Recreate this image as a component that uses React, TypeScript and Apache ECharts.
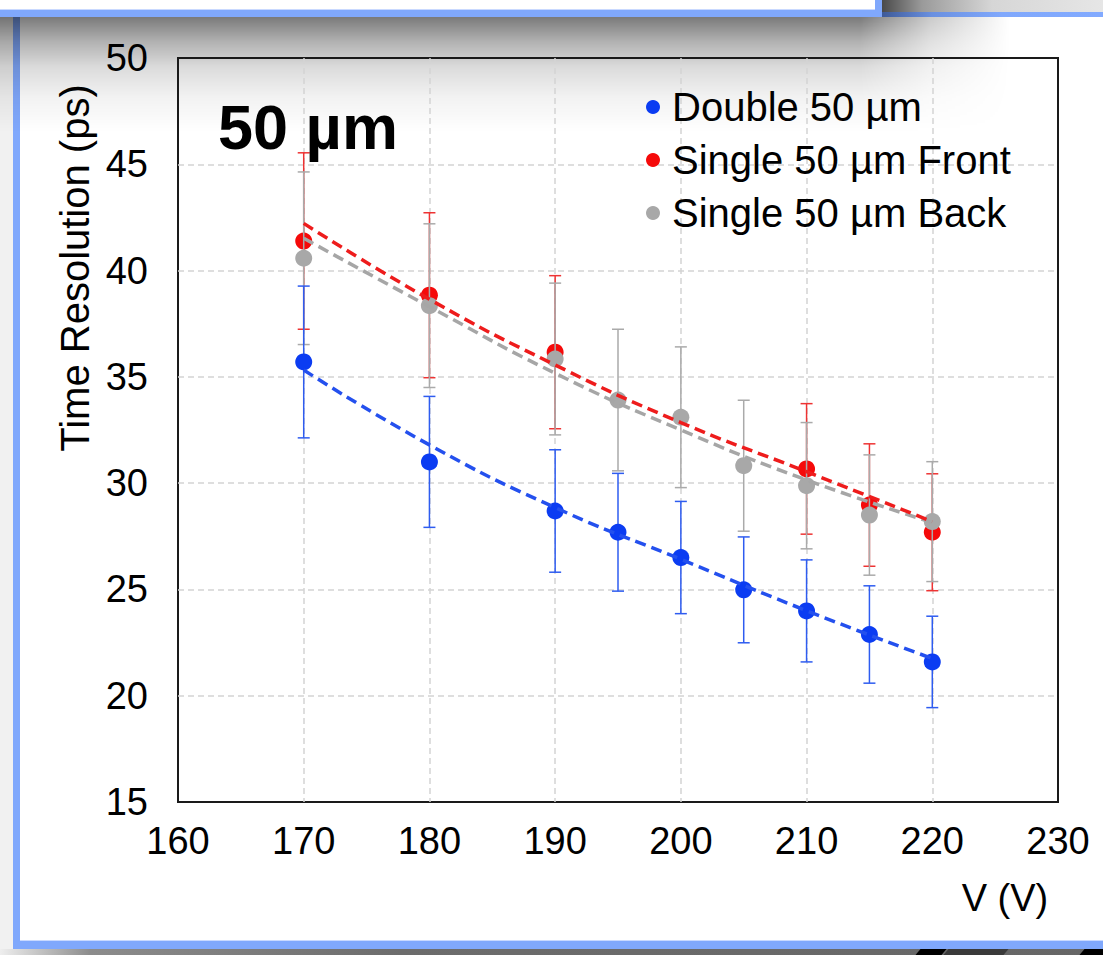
import React, { useEffect, useRef } from "react";
import * as echarts from "echarts";

// ---- data ----
const doubleVolts = [170, 180, 190, 195, 200, 205, 210, 215, 220];
const doubleRes = [35.7, 31.0, 28.69, 27.69, 26.5, 24.98, 23.99, 22.88, 21.59];
const doubleErr = [3.57, 3.08, 2.88, 2.77, 2.64, 2.49, 2.4, 2.29, 2.15];

const frontVolts = [170, 180, 190, 210, 215, 220];
const frontRes = [41.39, 38.84, 36.16, 30.67, 28.97, 27.69];
const frontErr = [4.15, 3.88, 3.6, 3.07, 2.88, 2.75];

const backVolts = [170, 180, 190, 195, 200, 205, 210, 215, 220];
const backRes = [40.58, 38.35, 35.84, 33.91, 33.1, 30.82, 29.88, 28.5, 28.19];
const backErr = [4.06, 3.85, 3.57, 3.33, 3.31, 3.08, 2.97, 2.83, 2.82];

const fitVolts = [170, 180, 190, 200, 210, 220];
const doubleFit = [35.32, 31.8, 28.85, 26.42, 24.0, 21.75];
const frontFit = [42.22, 38.65, 35.56, 32.85, 30.54, 28.19];
const backFit = [41.52, 38.3, 35.17, 32.5, 30.15, 28.15];

const xTicks = { min: 160, max: 230, step: 10 };
const yTicks = { min: 15, max: 50, step: 5 };

const names = ["Double 50 µm", "Single 50 µm Front", "Single 50 µm Back"];

const BLUE = "#0b3cf2";
const RED = "#f50a0a";
const GRAY = "#a8a8a8";
const FONT = "'Liberation Sans', Arial, Helvetica, sans-serif";

function pairs(xs: number[], ys: number[]) {
  return xs.map((x, i) => [x, ys[i]]);
}
function triples(xs: number[], ys: number[], es: number[]) {
  return xs.map((x, i) => [x, ys[i], es[i]]);
}

function errSeries(name: string, data: number[][], color: string, z: number) {
  return {
    type: "custom",
    name,
    z,
    silent: true,
    data,
    encode: { x: 0, y: 1 },
    renderItem: (_params: any, api: any) => {
      const x = api.value(0);
      const y = api.value(1);
      const e = api.value(2);
      const top = api.coord([x, y + e]);
      const bot = api.coord([x, y - e]);
      const hw = 6;
      const style = { stroke: color, lineWidth: 1.5 };
      return {
        type: "group",
        children: [
          { type: "line", shape: { x1: top[0], y1: top[1], x2: bot[0], y2: bot[1] }, style },
          { type: "line", shape: { x1: top[0] - hw, y1: top[1], x2: top[0] + hw, y2: top[1] }, style },
          { type: "line", shape: { x1: bot[0] - hw, y1: bot[1], x2: bot[0] + hw, y2: bot[1] }, style },
        ],
      };
    },
  };
}

function pointSeries(name: string, data: number[][], color: string, z: number) {
  return {
    type: "scatter",
    name,
    z,
    data,
    symbol: "circle",
    symbolSize: 17,
    itemStyle: { color, opacity: 1 },
  };
}

function fitSeries(name: string, data: number[][], color: string, z: number) {
  return {
    type: "line",
    name,
    z,
    data,
    smooth: true,
    showSymbol: false,
    silent: true,
    lineStyle: { color, width: 3.5, type: [11, 6] },
  };
}

export default function App() {
  const ref = useRef<HTMLDivElement>(null);

  useEffect(() => {
    if (!ref.current) return;
    const chart = echarts.init(ref.current, undefined, { renderer: "svg" });
    const split = {
      show: true,
      showMinLine: false,
      showMaxLine: false,
      lineStyle: { color: "#d4d4d4", width: 1.5, type: [6, 4] },
    };
    chart.setOption({
      animation: false,
      backgroundColor: "transparent",
      textStyle: { fontFamily: FONT },
      title: {
        text: "50 µm",
        left: 213,
        top: 90,
        textStyle: { fontSize: 63, fontWeight: "bold", color: "#000", fontFamily: FONT },
      },
      legend: {
        data: names.map((n) => ({ name: n, icon: "circle" })),
        orient: "vertical",
        left: 641,
        top: 82,
        itemWidth: 14,
        itemHeight: 14,
        itemGap: 13,
        textStyle: { fontSize: 40, color: "#000", lineHeight: 40, padding: [0, 0, 0, 7], fontFamily: FONT },
      },
      grid: {
        left: 178,
        top: 58,
        right: 45,
        bottom: 153,
        show: true,
        borderColor: "#1a1a1a",
        borderWidth: 2,
        backgroundColor: "transparent",
      },
      xAxis: {
        type: "value",
        min: xTicks.min,
        max: xTicks.max,
        interval: xTicks.step,
        name: "V (V)",
        nameLocation: "middle",
        nameGap: 77,
        nameTextStyle: { fontSize: 38, color: "#000", padding: [0, 0, 0, 774], fontFamily: FONT },
        axisLine: { show: false },
        axisTick: { show: false },
        axisLabel: { fontSize: 38, color: "#000", margin: 20, fontFamily: FONT },
        splitLine: split,
      },
      yAxis: {
        type: "value",
        min: yTicks.min,
        max: yTicks.max,
        interval: yTicks.step,
        name: "Time Resolution (ps)",
        nameLocation: "middle",
        nameGap: 83,
        nameTextStyle: { fontSize: 40, color: "#000", padding: [0, 0, 0, 324], fontFamily: FONT },
        axisLine: { show: false },
        axisTick: { show: false },
        axisLabel: { fontSize: 38, color: "#000", margin: 30, fontFamily: FONT },
        splitLine: split,
      },
      series: [
        errSeries("front-err", triples(frontVolts, frontRes, frontErr), "#ee3333", 2),
        pointSeries(names[1], pairs(frontVolts, frontRes), RED, 3),
        errSeries("back-err", triples(backVolts, backRes, backErr), "#aaaaaa", 4),
        pointSeries(names[2], pairs(backVolts, backRes), GRAY, 5),
        errSeries("double-err", triples(doubleVolts, doubleRes, doubleErr), "#2e5cf0", 6),
        pointSeries(names[0], pairs(doubleVolts, doubleRes), BLUE, 7),
        fitSeries("back-fit", pairs(fitVolts, backFit), "#a6a6a6", 8),
        fitSeries("front-fit", pairs(fitVolts, frontFit), "#ee1c1c", 9),
        fitSeries("double-fit", pairs(fitVolts, doubleFit), "#2450ee", 10),
      ],
    });
    return () => chart.dispose();
  }, []);

  const abs = (s: React.CSSProperties): React.CSSProperties => ({ position: "absolute", ...s });

  return (
    <div
      style={{
        position: "fixed",
        left: 0,
        top: 0,
        width: 1103,
        height: 955,
        overflow: "hidden",
        background: "#f1f1f1",
      }}
    >
      {/* top-right shadowed strip */}
      <div
        style={abs({
          left: 882,
          top: 0,
          width: 221,
          height: 12,
          background: "linear-gradient(to right, #4a4a4a 0px, #9a9a9a 40px, #d6d6d6 110px, #e6e6e6 221px)",
        })}
      />
      <div
        style={abs({
          left: 882,
          top: 12,
          width: 221,
          height: 6,
          background: "linear-gradient(to right, #3e5a98 0px, #6a90e0 50px, #80a8fc 120px, #82aaff 221px)",
        })}
      />
      {/* top white box with blue border */}
      <div style={abs({ left: 0, top: 0, width: 875, height: 10, background: "#fff" })} />
      <div style={abs({ left: 0, top: 9, width: 875, height: 1, background: "#c9d9ff" })} />
      <div style={abs({ left: 0, top: 10, width: 882, height: 7, background: "#80a8fc" })} />
      <div style={abs({ left: 875, top: 0, width: 7, height: 17, background: "#80a8fc" })} />
      {/* main panel */}
      <div style={abs({ left: 20, top: 17, width: 1083, height: 924, background: "#fff" })} />
      <div style={abs({ left: 13, top: 17, width: 7, height: 932, background: "#80a8fc" })} />
      <div style={abs({ left: 13, top: 941, width: 1090, height: 8, background: "#80a8fc" })} />
      <div style={abs({ left: 20, top: 940, width: 1083, height: 1, background: "#c9d9ff" })} />
      {/* shadow cast by the top box */}
      <div
        style={abs({
          left: 0,
          top: 17,
          width: 1010,
          height: 115,
          background:
            "linear-gradient(to bottom, rgba(0,0,0,0.52) 0px, rgba(0,0,0,0.3) 25px, rgba(0,0,0,0.14) 50px, rgba(0,0,0,0.05) 80px, rgba(0,0,0,0) 115px)",
          WebkitMaskImage: "linear-gradient(to right, #000 0px, #000 860px, rgba(0,0,0,0.4) 930px, transparent 1010px)",
          maskImage: "linear-gradient(to right, #000 0px, #000 860px, rgba(0,0,0,0.4) 930px, transparent 1010px)",
        })}
      />
      {/* bottom shadow strip */}
      <div
        style={abs({
          left: 0,
          top: 949,
          width: 1103,
          height: 6,
          background: "linear-gradient(to right, #eeeeee 0px, #8c8c8c 90px, #6c6c6c 400px, #666 1103px)",
        })}
      />
      <div style={abs({ left: 918, top: 949, width: 26, height: 6, background: "#000", transform: "skewX(-40deg)" })} />
      <div style={abs({ left: 946, top: 949, width: 60, height: 6, background: "#3a3a3a", transform: "skewX(-40deg)" })} />
      <div style={abs({ left: 1082, top: 949, width: 30, height: 6, background: "#000", transform: "skewX(-40deg)" })} />
      <div ref={ref} style={abs({ left: 0, top: 0, width: 1103, height: 955 })} />
    </div>
  );
}
